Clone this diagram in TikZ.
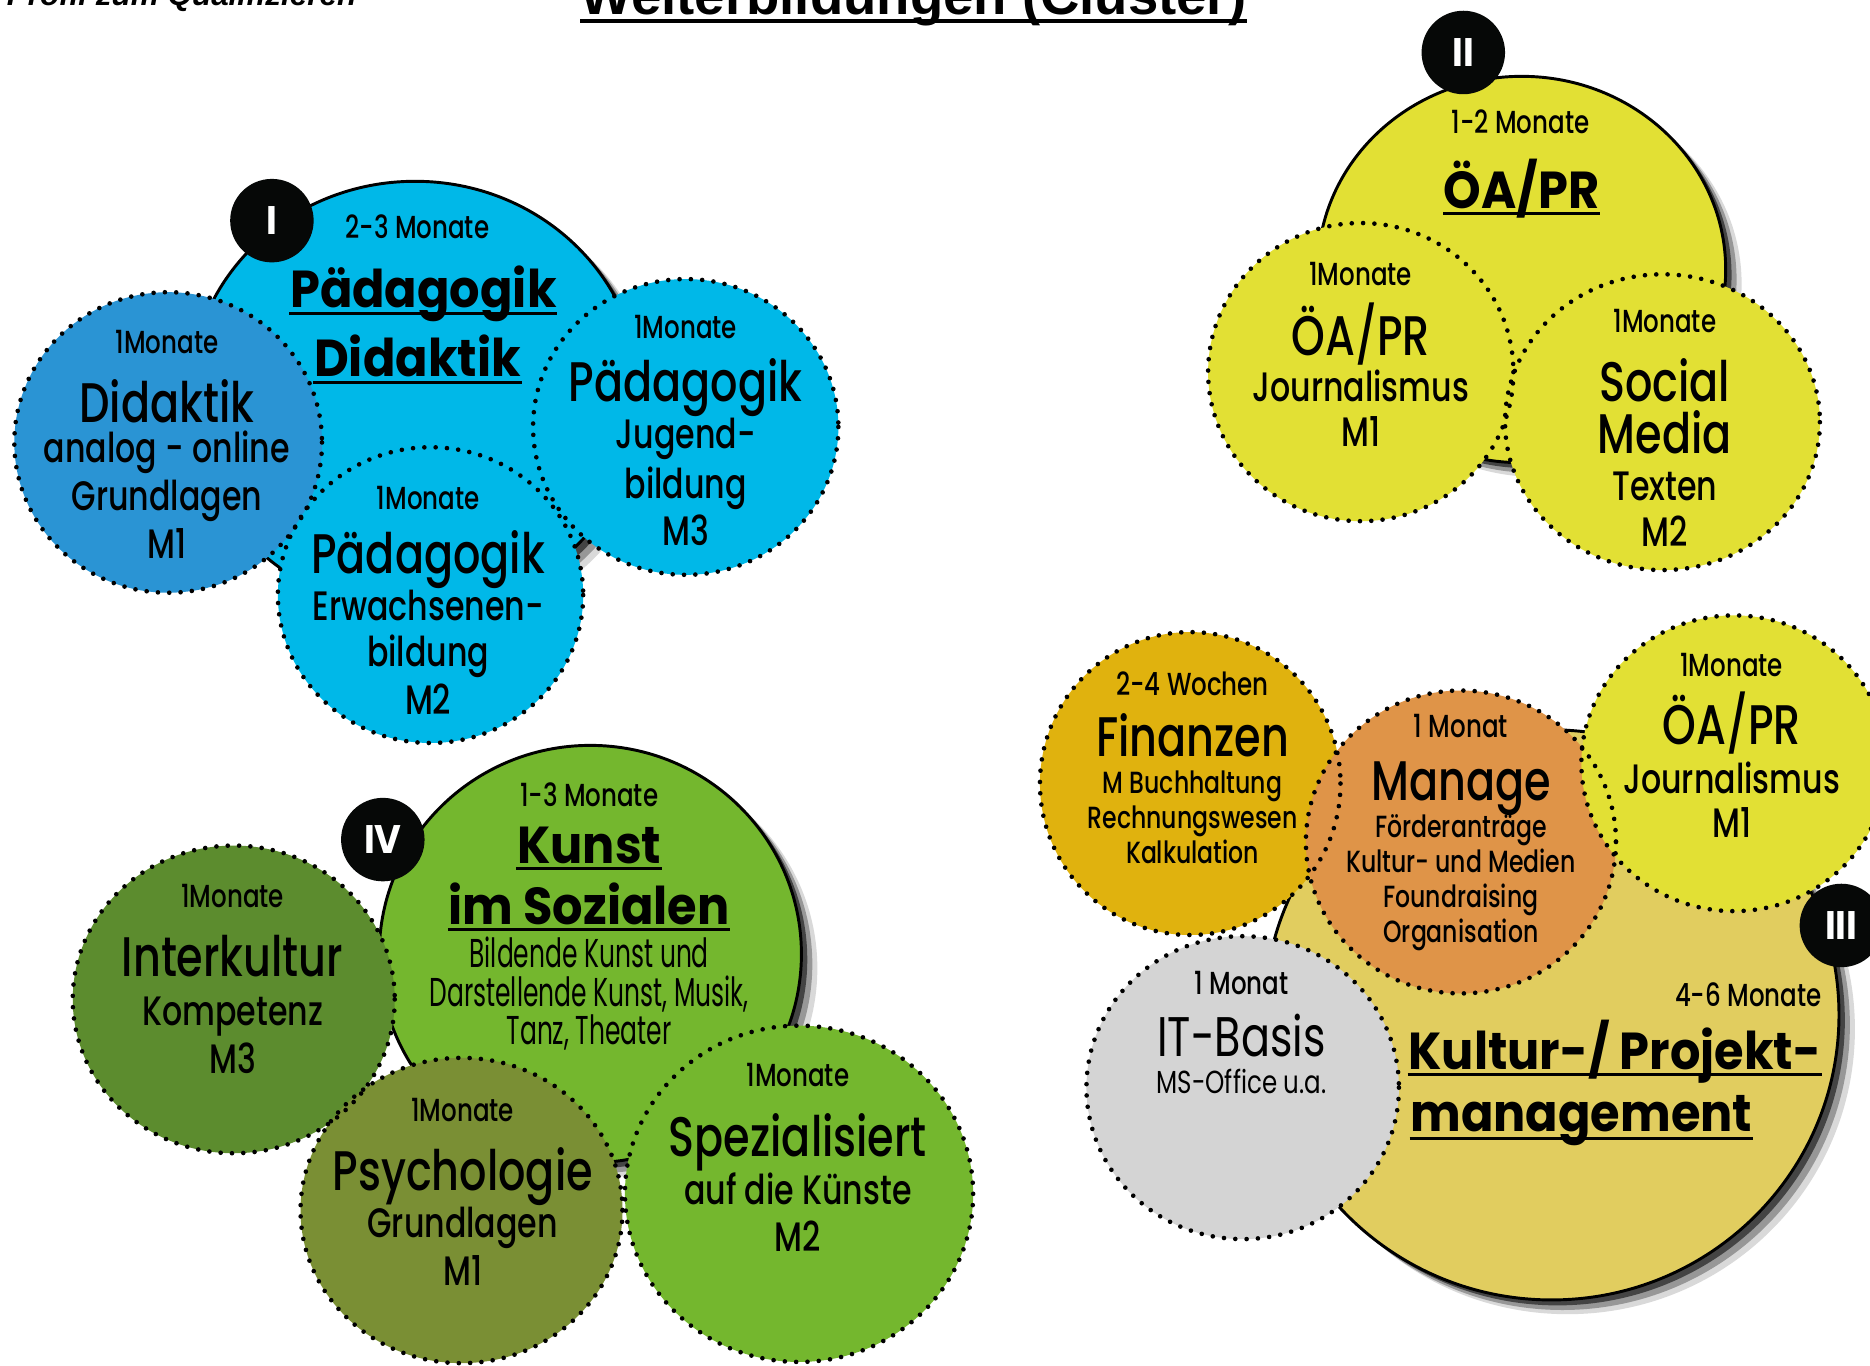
\documentclass[tikz,border=0pt]{standalone}
\usepackage{fontspec}
\setmainfont{Poppins Medium}[FakeStretch=0.77]
\newfontfamily\headfont{Poppins}[FakeStretch=0.92]
\newfontfamily\condfont{Poppins}[FakeStretch=0.62]
\newfontfamily\lightfont{Poppins}[FakeStretch=0.77]
\newfontfamily\arialfont{Liberation Sans}
\usetikzlibrary{shadows}

\definecolor{cyanI}{RGB}{0,184,232}
\definecolor{blueI}{RGB}{42,148,212}
\definecolor{yellowII}{RGB}{226,224,52}
\definecolor{ochreIII}{RGB}{225,205,95}
\definecolor{goldIII}{RGB}{224,178,14}
\definecolor{orangeIII}{RGB}{223,148,72}
\definecolor{greyIII}{RGB}{212,212,212}
\definecolor{greenIV}{RGB}{116,183,46}
\definecolor{darkgreenIV}{RGB}{92,140,46}
\definecolor{oliveIV}{RGB}{122,143,52}
\definecolor{badgeblack}{RGB}{6,8,7}

\tikzset{
  bigring/.style={draw=black, line width=0.7pt,
    drop shadow={shadow xshift=3.8pt, shadow yshift=-3.4pt, opacity=.15, fill=black},
    drop shadow={shadow xshift=2.6pt, shadow yshift=-2.4pt, opacity=.3, fill=black},
    drop shadow={shadow xshift=1.4pt, shadow yshift=-1.3pt, opacity=.55, fill=black}},
  dotring/.style={draw=black, line width=1.1pt, dash pattern=on 0pt off 2.7pt, line cap=round},
  uline/.style={line width=0.7pt},
  durtxt/.style={anchor=base, inner sep=0pt, font=\fontsize{7.6}{9}\selectfont},
  nametxt/.style={anchor=base, inner sep=0pt, font=\fontsize{13.3}{15}\selectfont},
  subtxt/.style={anchor=base, inner sep=0pt, font=\fontsize{9.8}{12}\selectfont},
  smalltxt/.style={anchor=base, inner sep=0pt, font=\fontsize{7.3}{9}\selectfont},
  condtxt/.style={anchor=base, inner sep=0pt, font=\condfont\fontsize{9.6}{11}\selectfont},
  headtxt/.style={anchor=base, inner sep=0pt, font=\headfont\bfseries\fontsize{12.4}{14}\selectfont},
  badgetxt/.style={inner sep=0pt, text=white, font=\headfont\bfseries\fontsize{9.5}{10}\selectfont},
}

\begin{document}
\begin{tikzpicture}[x=0.01cm, y=-0.01cm]
  \useasboundingbox (0,0) rectangle (1568,1145);
  \clip (0,0) rectangle (1568,1145);

  % Headings (cut at the top edge)
  \node[anchor=base west, inner sep=0pt, font=\arialfont\bfseries\itshape\fontsize{7.5}{9}\selectfont] (profil) at (5,5) {Profil zum Qualifizieren};
  \node[anchor=base, inner sep=0pt, font=\arialfont\bfseries\fontsize{13}{15}\selectfont] (title) at (766,12) {Weiterbildungen (Cluster)};
  \draw[line width=1pt] ([yshift=-1.5pt]title.base west) -- ([yshift=-1.5pt]title.base east);

  % ---------- Cluster I ----------
  \path[bigring, fill=cyanI] (348,332) ellipse [x radius=189, y radius=180];
  \node[durtxt] (i-dur) at (350,200) {2-3 Monate};
  \node[headtxt] (i-h1) at (355,258) {Pädagogik\ };
  \node[headtxt] (i-h2) at (350,316) {Didaktik};
  \draw[uline] ([yshift=-1.3pt]i-h1.base west) -- ([yshift=-1.3pt]i-h1.base east);
  \draw[uline] ([yshift=-1.3pt]i-h2.base west) -- ([yshift=-1.3pt]i-h2.base east);

  \coordinate (i1) at (141,371);
  \coordinate (i3) at (575,358);
  \coordinate (i2) at (361,499);
  \fill[blueI] (i1) ellipse [x radius=129, y radius=126];
  \fill[cyanI] (i3) ellipse [x radius=128, y radius=124];
  \fill[cyanI] (i2) ellipse [x radius=128, y radius=124];
  \draw[dotring] (i1) ellipse [x radius=129, y radius=126];
  \draw[dotring] (i3) ellipse [x radius=128, y radius=124];
  \draw[dotring] (i2) ellipse [x radius=128, y radius=124];

  % M1 Didaktik
  \node[durtxt] (i1-dur) at (140,296) {1Monate};
  \node[nametxt] (i1-name) at (140,354) {Didaktik};
  \foreach \t/\y [count=\k] in {analog - online/388, Grundlagen/428, M1/468}
    \node[subtxt] (i1-s\k) at (140,\y) {\t};
  % M3 Jugendbildung
  \node[durtxt] (i3-dur) at (575,284) {1Monate};
  \node[nametxt] (i3-name) at (575,337) {Pädagogik};
  \foreach \t/\y [count=\k] in {Jugend-/376, bildung/418, M3/457}
    \node[subtxt] (i3-s\k) at (575,\y) {\t};
  % M2 Erwachsenenbildung
  \node[durtxt] (i2-dur) at (359,427) {1Monate};
  \node[nametxt] (i2-name) at (359,481) {Pädagogik};
  \foreach \t/\y [count=\k] in {Erwachsenen-/520, bildung/559, M2/599}
    \node[subtxt] (i2-s\k) at (359,\y) {\t};

  % ---------- Cluster II ----------
  \path[bigring, fill=yellowII] (1276,226) ellipse [x radius=171, y radius=162];
  \node[durtxt] (ii-dur) at (1275,112) {1-2 Monate};
  \node[headtxt] (ii-h1) at (1276,175) {ÖA/PR};
  \draw[uline] ([yshift=-1.1pt]ii-h1.base west) -- ([yshift=-1.1pt]ii-h1.base east);

  \coordinate (ii1) at (1141,312);
  \coordinate (ii2) at (1394,354);
  \fill[yellowII] (ii1) ellipse [x radius=128, y radius=125];
  \fill[yellowII] (ii2) ellipse [x radius=132, y radius=124];
  \draw[dotring] (ii1) ellipse [x radius=128, y radius=125];
  \draw[dotring] (ii2) ellipse [x radius=132, y radius=124];

  % M1 Journalismus
  \node[durtxt] (ii1-dur) at (1141,239) {1Monate};
  \node[nametxt] (ii1-name) at (1141,298) {ÖA/PR};
  \foreach \t/\y [count=\k] in {Journalismus/337, M1/374}
    \node[subtxt] (ii1-s\k) at (1141,\y) {\t};
  % M2 Social Media
  \node[durtxt] (ii2-dur) at (1396,279) {1Monate};
  \node[nametxt] (ii2-n1) at (1396,337) {Social};
  \node[nametxt] (ii2-n2) at (1396,380) {Media};
  \foreach \t/\y [count=\k] in {Texten/420, M2/458}
    \node[subtxt] (ii2-s\k) at (1396,\y) {\t};

  % ---------- Cluster III ----------
  \path[bigring, fill=ochreIII] (1301,851) ellipse [x radius=241, y radius=239];
  \node[durtxt] (iii-dur) at (1466,844) {4-6 Monate};
  \node[headtxt] (iii-h1) at (1354,897) {Kultur-/ Projekt-};
  \node[headtxt] (iii-h2) at (1326,949) {management};
  \draw[uline] ([yshift=-1.2pt]iii-h1.base west) -- ([yshift=-1.2pt]iii-h1.base east);
  \draw[uline] ([yshift=-1.6pt]iii-h2.base west) -- ([yshift=-1.6pt]iii-h2.base east);

  \coordinate (fin) at (998,657);
  \coordinate (man) at (1225,706);
  \coordinate (oea) at (1454,640);
  \coordinate (it) at (1042,912);
  \fill[goldIII] (fin) ellipse [x radius=126, y radius=127];
  \fill[orangeIII] (man) ellipse [x radius=130, y radius=127];
  \fill[yellowII] (oea) ellipse [x radius=128, y radius=124];
  \fill[greyIII] (it) ellipse [x radius=131, y radius=127];
  \draw[dotring] (fin) ellipse [x radius=126, y radius=127];
  \draw[dotring] (man) ellipse [x radius=130, y radius=127];
  \draw[dotring] (oea) ellipse [x radius=128, y radius=124];
  \draw[dotring] (it) ellipse [x radius=131, y radius=127];

  % Finanzen
  \node[durtxt] (fin-dur) at (1000,583) {2-4 Wochen};
  \node[nametxt] (fin-name) at (1000,634) {Finanzen};
  \foreach \t/\y [count=\k] in {M Buchhaltung/665, Rechnungswesen/695, Kalkulation/724}
    \node[smalltxt] (fin-s\k) at (1000,\y) {\t};
  % Manage
  \node[durtxt] (man-dur) at (1225,618) {1 Monat};
  \node[nametxt] (man-name) at (1225,671) {Manage};
  \foreach \t/\y [count=\k] in {Förderanträge/702, Kultur- und Medien/732, Foundraising/761, Organisation/790}
    \node[smalltxt] (man-s\k) at (1225,\y) {\t};
  % ÖA/PR
  \node[durtxt] (oea-dur) at (1452,567) {1Monate};
  \node[nametxt] (oea-name) at (1452,624) {ÖA/PR};
  \foreach \t/\y [count=\k] in {Journalismus/665, M1/702}
    \node[subtxt] (oea-s\k) at (1452,\y) {\t};
  % IT-Basis
  \node[durtxt] (it-dur) at (1041,834) {1 Monat};
  \node[nametxt, font=\lightfont\fontsize{13.3}{15}\selectfont] (it-name) at (1041,886) {IT-Basis};
  \node[smalltxt, font=\lightfont\fontsize{7.6}{9}\selectfont] (it-s1) at (1041,917) {MS-Office u.a.};

  % ---------- Cluster IV ----------
  \path[bigring, fill=greenIV] (495,800) ellipse [x radius=177, y radius=175];
  \node[durtxt] (iv-dur) at (494,676) {1-3 Monate};
  \node[headtxt] (iv-h1) at (494,724) {Kunst};
  \node[headtxt] (iv-h2) at (494,775) {im Sozialen};
  \draw[uline] ([yshift=-1.3pt]iv-h1.base west) -- ([yshift=-1.3pt]iv-h1.base east);
  \draw[uline] ([yshift=-1.3pt]iv-h2.base west) -- ([yshift=-1.3pt]iv-h2.base east);
  \node[condtxt] (iv-c1) at (494,811) {Bildende Kunst und};
  \node[condtxt] (iv-c2) at (494,844) {Darstellende Kunst, Musik,};
  \node[condtxt] (iv-c3) at (494,876) {Tanz, Theater};

  \coordinate (int) at (196,838);
  \coordinate (psy) at (387,1015);
  \coordinate (spe) at (670,1001);
  \fill[darkgreenIV] (int) ellipse [x radius=135, y radius=129];
  \fill[oliveIV] (psy) ellipse [x radius=135, y radius=128];
  \fill[greenIV] (spe) ellipse [x radius=146, y radius=141];
  \draw[dotring] (int) ellipse [x radius=135, y radius=129];
  \draw[dotring] (psy) ellipse [x radius=135, y radius=128];
  \draw[dotring] (spe) ellipse [x radius=146, y radius=141];

  % Interkultur
  \node[durtxt] (int-dur) at (195,761) {1Monate};
  \node[nametxt] (int-name) at (195,819) {Interkultur};
  \foreach \t/\y [count=\k] in {Kompetenz/860, M3/900}
    \node[subtxt] (int-s\k) at (195,\y) {\t};
  % Psychologie
  \node[durtxt] (psy-dur) at (388,940) {1Monate};
  \node[nametxt] (psy-name) at (388,998) {Psychologie};
  \foreach \t/\y [count=\k] in {Grundlagen/1038, M1/1078}
    \node[subtxt] (psy-s\k) at (388,\y) {\t};
  % Spezialisiert
  \node[durtxt] (spe-dur) at (669,911) {1Monate};
  \node[nametxt] (spe-name) at (669,970) {Spezialisiert};
  \foreach \t/\y [count=\k] in {auf die Künste/1010, M2/1049}
    \node[subtxt] (spe-s\k) at (669,\y) {\t};

  % Badges
  \fill[badgeblack] (228,185) circle [radius=35];
  \node[badgetxt] (b-i) at (228,185) {I};
  \fill[badgeblack] (1227,44) circle [radius=35];
  \node[badgetxt] (b-ii) at (1227,44) {II};
  \fill[badgeblack] (1544,776) circle [radius=35];
  \node[badgetxt] (b-iii) at (1544,776) {III};
  \fill[badgeblack] (321,704) circle [radius=35];
  \node[badgetxt] (b-iv) at (321,704) {IV};
\end{tikzpicture}
\end{document}
